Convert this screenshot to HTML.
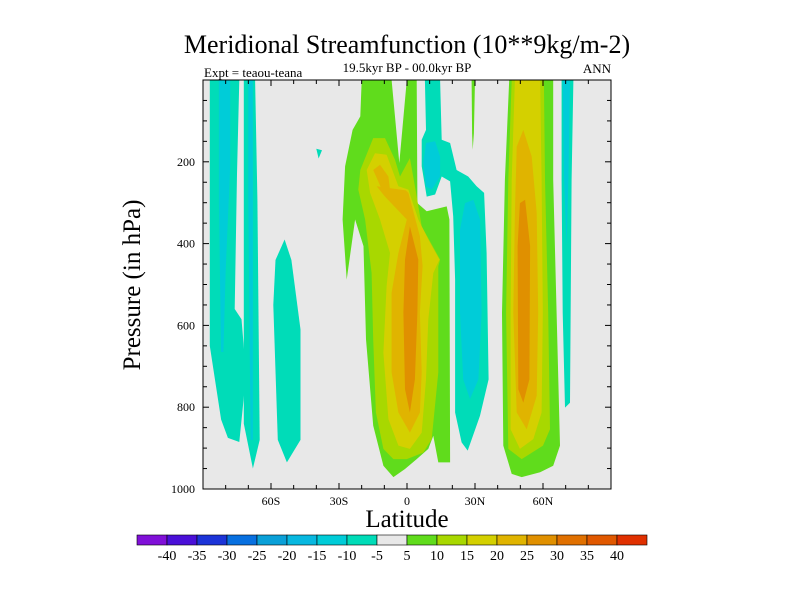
<!DOCTYPE html>
<html><head><meta charset="utf-8"><style>
html,body{margin:0;padding:0;background:#fff;}
svg text{font-family:"Liberation Serif",serif;fill:#000;}
</style></head><body>
<svg id="chart" width="800" height="600" viewBox="0 0 800 600" xmlns="http://www.w3.org/2000/svg">
<text x="407" y="53" font-size="26" text-anchor="middle">Meridional Streamfunction (10**9kg/m-2)</text>
<text x="407" y="72" font-size="13" text-anchor="middle">19.5kyr BP - 00.0kyr BP</text>
<text x="204" y="77" font-size="13">Expt = teaou-teana</text>
<text x="611" y="73" font-size="13" text-anchor="end">ANN</text>
<g id="plot"></g>
<g id="axes"></g>
<text x="407" y="527" font-size="25" text-anchor="middle">Latitude</text>
<text x="0" y="0" font-size="25" text-anchor="middle" transform="translate(140,285) rotate(-90)">Pressure (in hPa)</text>
<g id="cbar"></g>
</svg>
<script>
const levelColors = ["#8010d8","#4a10d8","#1c34d8","#0870e0","#0aa0d8","#08b8e0","#00ccd8","#00dcb8","#e8e8e8","#60dc1c","#a8d800","#d4d000","#e0b400","#e09000","#e07000","#e05800","#e03000"];
const levelLabels = [-40,-35,-30,-25,-20,-15,-10,-5,5,10,15,20,25,30,35,40];
const xTickLats = [-60,-30,0,30,60];
const xTickLabels = ["60S","30S","0","30N","60N"];
const yTickVals = [200,400,600,800,1000];
// contour regions: [colorIndex, [[lat,pressure],...]]
const regionLevels = [7,6,7,6,7,7, 9,10,11,12,13, 7,6,6, 9, 9,10,11,12,13, 7,6];
const regionShapes = [
 [[-87,0],[-74,0],[-75,230],[-76,560],[-73,585],[-71,720],[-74,885],[-79,875],[-82,830],[-87,650]],
 [[-83,0],[-78,0],[-78,210],[-80,465],[-81,665],[-82,665],[-83,300]],
 [[-72,0],[-67,0],[-66,290],[-65,880],[-68,950],[-72,840],[-72,290]],
 [[-70,0],[-68,0],[-68,880],[-69,880],[-70,290]],
 [[-54,390],[-58,440],[-59,550],[-57,880],[-53,935],[-47,880],[-47,610],[-51,440]],
 [[-40,168],[-37.5,172],[-39,192]],
 [[-20,0],[-6.8,0],[-3.4,203],[-0.1,0],[4.3,0],[4.6,301],[8.7,321],[17.5,309],[18.7,341],[19,935],[13.8,935],[11.6,870],[9.4,902],[4.3,927],[-0.9,951],[-6,971],[-10.4,943],[-14.9,845],[-18.1,634],[-19.2,406],[-22.9,341],[-26.6,488],[-28.4,341],[-27.3,211],[-24,122],[-20.6,89]],
 [[-20.6,220],[-14.9,142],[-9.7,142],[-5.3,195],[-3.1,236],[1.3,191],[4,276],[6.5,358],[14.6,439],[13.8,455],[13.8,715],[10.9,878],[7.2,911],[-0.1,927],[-6,927],[-10.4,902],[-13.7,813],[-14.9,634],[-15.6,472],[-18.5,341],[-21.5,268]],
 [[-17.8,220],[-14.1,179],[-9,183],[-3.8,260],[0.6,268],[5,341],[9.4,390],[14.3,439],[11.6,472],[9.4,585],[8.4,732],[6.5,862],[1.3,902],[-3.8,894],[-8.2,829],[-10.4,667],[-9,504],[-7.5,423],[-11.9,341],[-16.3,276]],
 [[-14.9,220],[-11.9,207],[-8.2,236],[-7.5,268],[-9.7,285],[-13.4,260],[-0.5,270],[0.6,276],[5.7,382],[6.9,455],[5.7,569],[6.5,715],[5.7,813],[1.3,862],[-3.8,813],[-6.8,715],[-6.8,520],[-3.8,423],[-0.1,341],[-9.7,285]],
 [[1.3,358],[5,439],[4.6,569],[3.5,732],[1.3,813],[-0.9,756],[-1.6,569],[-0.9,439]],
 [[7.9,0],[14.6,0],[15.3,146],[19,154],[21.9,220],[27,236],[30.7,260],[34,276],[35.1,423],[36,732],[32.2,821],[26.8,906],[24.1,886],[21.2,813],[21.2,488],[20.4,333],[19,248],[15.3,236],[12.4,280],[8.7,285],[6.5,211],[6.5,146],[8.4,122]],
 [[8.4,154],[12.4,150],[14.6,187],[14.6,236],[10.9,268],[8.4,260],[7.2,203]],
 [[25.6,301],[29.3,293],[32.2,341],[32.9,569],[31.5,732],[27.8,780],[24.8,732],[23.4,569],[23.4,366]],
 [[28.5,0],[30,0],[29.5,130],[29,171],[28.7,130]],
 [[45.1,0],[64.5,0],[64.5,244],[66,569],[67.5,894],[64.5,943],[58.7,959],[50.6,971],[46.2,963],[42.5,894],[41.9,569],[43.2,244]],
 [[46.2,0],[60.4,0],[60.9,244],[62.3,569],[63.1,854],[60,894],[50.6,927],[44.7,902],[43.7,569],[44.7,244]],
 [[47.6,0],[58.7,0],[59.4,244],[59.9,569],[59.4,813],[55.7,878],[49.8,902],[45.7,854],[45.7,569],[46.2,244]],
 [[48.4,163],[51.3,122],[55,187],[57.2,325],[57.9,569],[57.2,772],[52.8,854],[48.4,813],[46.9,569],[47.6,325]],
 [[49.8,301],[52.1,293],[54.3,406],[54,732],[51.3,789],[49.1,756],[48.8,406]],
 [[68.2,0],[73.4,0],[72.6,244],[71.9,789],[69.7,801],[68.7,569],[68.2,244]],
 [[68.7,0],[71.9,0],[71.2,244],[70.4,406],[69.3,244]]
];
const X0=203, X1=611, Y0=80, Y1=489;
const xs = lat => X0 + (lat+90)/180*(X1-X0);
const ys = p => Y0 + p/1000*(Y1-Y0);
const NS="http://www.w3.org/2000/svg";
function mk(tag, attrs, parent){const e=document.createElementNS(NS,tag);for(const k in attrs)e.setAttribute(k,attrs[k]);parent.appendChild(e);return e;}
const plot=document.getElementById('plot');
const bg=mk('rect',{x:X0,y:Y0,width:X1-X0,height:Y1-Y0,fill:"#e8e8e8"},plot);


regionShapes.forEach((pts,i)=>{
  const pg=mk('polygon',{points:pts.map(p=>xs(p[0]).toFixed(1)+','+ys(p[1]).toFixed(1)).join(' '),fill:levelColors[regionLevels[i]]},plot);
  
  
});
const axes=document.getElementById('axes');
const fr=mk('rect',{x:X0,y:Y0,width:X1-X0,height:Y1-Y0,fill:"none",stroke:"#000","stroke-width":1},axes);


for(let lat=-90;lat<=90;lat+=10){
  const x=xs(lat), L=(lat%30===0)?6:4;
  mk('line',{x1:x,y1:Y1,x2:x,y2:Y1-L,stroke:"#000"},axes);
  mk('line',{x1:x,y1:Y0,x2:x,y2:Y0+L,stroke:"#000"},axes);
}
xTickLats.forEach((lat,i)=>{
  const t=mk('text',{x:xs(lat),y:Y1+16,"font-size":12,"text-anchor":"middle"},axes);
  t.textContent=xTickLabels[i];
  
  
});
for(let p=50;p<1000;p+=50){
  const y=ys(p), L=(p%200===0)?6:4;
  mk('line',{x1:X0,y1:y,x2:X0+L,y2:y,stroke:"#000"},axes);
  mk('line',{x1:X1,y1:y,x2:X1-L,y2:y,stroke:"#000"},axes);
}
yTickVals.forEach(v=>{
  const t=mk('text',{x:X0-8,y:ys(v)+4,"font-size":12,"text-anchor":"end"},axes);
  t.textContent=v;
  
  
});
const cb=document.getElementById('cbar');
const CB0=137, CBW=30, CBY=535, CBH=10;
levelColors.forEach((c,i)=>{
  const r=mk('rect',{x:CB0+i*CBW,y:CBY,width:CBW,height:CBH,fill:c,stroke:"#000","stroke-width":0.6},cb);
  
  
});
levelLabels.forEach((v,i)=>{
  const t=mk('text',{x:CB0+(i+1)*CBW,y:CBY+25,"font-size":14,"text-anchor":"middle"},cb);
  t.textContent=v;
  
  
});
</script>
</body></html>
